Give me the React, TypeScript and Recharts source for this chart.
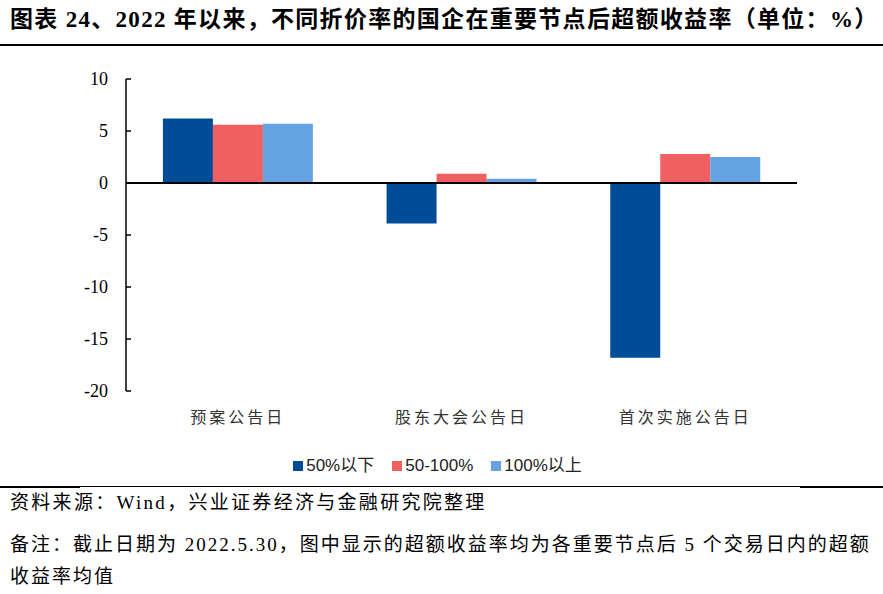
import React from "react";
import {
  BarChart,
  Bar,
  XAxis,
  YAxis,
  ReferenceLine,
  Legend,
} from "recharts";

const categories = ["预案公告日", "股东大会公告日", "首次实施公告日"];
const below50 = [6.2, -3.9, -16.8];
const from50to100 = [5.6, 0.9, 2.8];
const above100 = [5.7, 0.4, 2.5];
const yTicks = [-20, -15, -10, -5, 0, 5, 10];

const seriesNames = ["50%以下", "50-100%", "100%以上"];
const seriesColors = ["#004C97", "#F06060", "#65A3E3"];

const data = categories.map((name, i) => ({
  name,
  below50: below50[i],
  from50to100: from50to100[i],
  above100: above100[i],
}));

const serif = '"Liberation Serif", "Times New Roman", "Noto Sans CJK SC", serif';

const YTick = (props: any) => {
  const { x, y, payload } = props;
  // x is text anchor; axis line is at x + tickSize + tickMargin
  const axisX = x + 18;
  return (
    <g>
      <line x1={axisX} x2={axisX + 5} y1={y} y2={y} stroke="#000" strokeWidth={1.5} />
      <text
        x={x}
        y={y}
        dy="0.35em"
        textAnchor="end"
        fontFamily={serif}
        fontSize={18}
        fill="#000"
      >
        {payload.value}
      </text>
    </g>
  );
};

const XTick = (props: any) => {
  const { x, y, payload } = props;
  return (
    <text
      x={x}
      y={y}
      dy="0.35em"
      textAnchor="middle"
      fontFamily='"Noto Sans CJK SC", sans-serif'
      fontSize={16}
      letterSpacing={3}
      fill="#333"
    >
      {payload.value}
    </text>
  );
};

const LegendContent = () => (
  <div
    style={{
      width: 883,
      height: 48,
      display: "flex",
      justifyContent: "center",
      paddingTop: 19,
      paddingLeft: 10,
      boxSizing: "border-box",
      fontFamily: '"Liberation Sans", Arial, "Noto Sans CJK SC", sans-serif',
      fontSize: 17,
      lineHeight: "20px",
      color: "#222",
    }}
  >
    {seriesNames.map((n, i) => (
      <span key={n} style={{ display: "flex", alignItems: "center", marginRight: 18 }}>
        <span
          style={{
            display: "inline-block",
            width: 10,
            height: 10,
            background: seriesColors[i],
            marginRight: 3,
          }}
        />
        {n}
      </span>
    ))}
  </div>
);

export default function App() {
  return (
    <div
      style={{
        position: "absolute",
        left: 0,
        top: 0,
        width: 883,
        height: 594,
        background: "#fff",
        fontFamily: serif,
      }}
    >
      <div
        style={{
          position: "absolute",
          left: 10,
          top: 5,
          width: 870,
          fontSize: 23,
          fontWeight: "bold",
          letterSpacing: 1.3,
          whiteSpace: "nowrap",
          lineHeight: "30px",
        }}
      >
        图表 24、2022 年以来，不同折价率的国企在重要节点后超额收益率（单位：%）
      </div>
      <div style={{ position: "absolute", left: 0, top: 44, width: 883, height: 2, background: "#000" }} />

      <div style={{ position: "absolute", left: 0, top: 60 }}>
        <BarChart
          width={883}
          height={420}
          data={data}
          margin={{ top: 19, right: 86, bottom: 0, left: 0 }}
          barCategoryGap="16.5%"
          barGap={0}
        >
          <YAxis
            width={126}
            domain={[-20, 10]}
            ticks={yTicks}
            interval={0}
            axisLine={{ stroke: "#000", strokeWidth: 1.5 }}
            tickLine={false}
            tickSize={5}
            tickMargin={13}
            tick={<YTick />}
          />
          <XAxis
            dataKey="name"
            height={41}
            axisLine={false}
            tickLine={false}
            tickSize={0}
            tickMargin={26}
            tick={<XTick />}
          />
          <ReferenceLine y={0} stroke="#000" strokeWidth={2} />
          <Legend
            verticalAlign="bottom"
            width={883}
            wrapperStyle={{ left: 0, height: 48 }}
            content={<LegendContent />}
          />
          <Bar dataKey="below50" name={seriesNames[0]} fill={seriesColors[0]} isAnimationActive={false} />
          <Bar dataKey="from50to100" name={seriesNames[1]} fill={seriesColors[1]} isAnimationActive={false} />
          <Bar dataKey="above100" name={seriesNames[2]} fill={seriesColors[2]} isAnimationActive={false} />
        </BarChart>
      </div>

      <div style={{ position: "absolute", left: 0, top: 486, width: 80, height: 2, background: "#000" }} />
      <div style={{ position: "absolute", left: 80, top: 486, width: 720, height: 1, background: "#000" }} />
      <div style={{ position: "absolute", left: 800, top: 486, width: 83, height: 2, background: "#000" }} />

      <div
        style={{
          position: "absolute",
          left: 10,
          top: 490,
          fontSize: 19,
          lineHeight: "26px",
          letterSpacing: 2.3,
          whiteSpace: "nowrap",
        }}
      >
        资料来源：Wind，兴业证券经济与金融研究院整理
      </div>
      <div
        style={{
          position: "absolute",
          left: 10,
          top: 529,
          width: 872,
          fontSize: 19,
          lineHeight: "32px",
          letterSpacing: 2,
        }}
      >
        备注：截止日期为 2022.5.30，图中显示的超额收益率均为各重要节点后 5 个交易日内的超额收益率均值
      </div>
    </div>
  );
}
